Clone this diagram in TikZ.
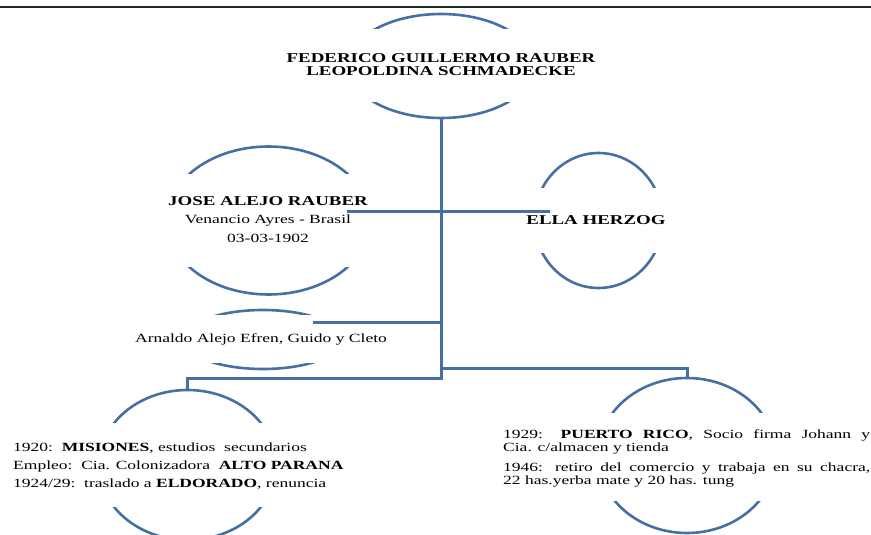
\documentclass[tikz,border=0pt]{standalone}
\usepackage{fontspec}
\setmainfont[FakeStretch=1.4]{Liberation Serif}
\usetikzlibrary{shapes.geometric}
\definecolor{lineblue}{RGB}{70,112,163}
\tikzset{
  ring/.style={ellipse, draw=lineblue, line width=2.6pt, inner sep=0pt},
  conn/.style={draw=lineblue, line width=3pt},
  txt/.style={inner sep=0pt, anchor=base, font=\fontsize{12.5}{15}\selectfont},
  txtl/.style={txt, anchor=base west},
  persontxt/.style={inner sep=0pt, anchor=base, font=\bfseries\fontsize{13.5}{15}\selectfont},
}
% name, cx, cy, rx, ry, top cut, bottom cut
\newcommand\ringshape[7]{%
  \begin{scope}
    \clip (#2-#4-10,#3-#5-10) rectangle (#2+#4+10,#6);
    \node[ring, minimum width=#4*2pt, minimum height=#5*2pt] at (#2,#3) {};
  \end{scope}
  \begin{scope}
    \clip (#2-#4-10,#7) rectangle (#2+#4+10,#3+#5+10);
    \node[ring, minimum width=#4*2pt, minimum height=#5*2pt] at (#2,#3) {};
  \end{scope}
  \node[ellipse, inner sep=0pt, minimum width=#4*2pt, minimum height=#5*2pt] (#1) at (#2,#3) {};
}
\begin{document}
\begin{tikzpicture}[x=1pt, y=-1pt]
\useasboundingbox (0,0) rectangle (871,535);
\draw[black!85, line width=1.6pt] (0,7) -- (871,7);

% rings
\ringshape{topE}{441}{66}{93}{52}{28.5}{102.5}
\ringshape{joseE}{268.5}{220.5}{101.7}{74}{173.5}{267}
\ringshape{ellaE}{598.5}{220.5}{64}{67.5}{187.5}{253.5}
\ringshape{kidsE}{263}{339.5}{79.5}{29.5}{314.5}{363}
\ringshape{leftE}{187.5}{465}{88.5}{75}{422.5}{507.5}
\ringshape{rightE}{687}{455.5}{89}{77.5}{412.5}{501.5}

% connectors
\coordinate (mL) at (347,211);
\coordinate (mR) at (550,211);
\coordinate (kidsEnd) at (313,322);
\coordinate (hubL) at (441,378);
\coordinate (hubR) at (441,368);
\draw[conn] (mL) -- (mR);
\draw[conn] (kidsEnd) -- (kidsEnd -| topE.south);
\draw[conn] (topE.south) -- (hubL) -- (hubL -| leftE.north) -- (leftE.north);
\draw[conn] (hubR) -- (hubR -| rightE.north) -- (rightE.north);

% texts
\node[persontxt] (t1) at (441,62.3) {FEDERICO GUILLERMO RAUBER};
\node[persontxt] (t2) at (441,75.7) {LEOPOLDINA SCHMADECKE};

\node[persontxt] (j1) at (268,205.5) {JOSE ALEJO RAUBER};
\node[txt] (j2) at (268,223.5) {Venancio Ayres - Brasil};
\node[txt] (j3) at (268,242.5) {03-03-1902};

\node[persontxt] (e1) at (596,224) {ELLA HERZOG};

\node[txt] (k1) at (261,342) {Arnaldo Alejo Efren, Guido y Cleto};

\node[txtl] (l1) at (13,451.5) {1920:\ \ \textbf{MISIONES}, estudios\ \ secundarios};
\node[txtl] (l2) at (13,469.5) {Empleo:\ \ Cia. Colonizadora\ \ \textbf{ALTO PARANA}};
\node[txtl] (l3) at (13,487.5) {1924/29:\ \ traslado a \textbf{ELDORADO}, renuncia};

\node[txtl] (r1) at (503,438.3) {\makebox[367pt][s]{1929: \textbf{PUERTO RICO}, Socio firma Johann y}};
\node[txtl] (r2) at (503,451.7) {Cia. c/almacen y tienda};
\node[txtl] (r3) at (503,471) {\makebox[367pt][s]{1946: retiro del comercio y trabaja en su chacra,}};
\node[txtl] (r4) at (503,484) {22 has.yerba mate y 20 has. tung};
\end{tikzpicture}
\end{document}
